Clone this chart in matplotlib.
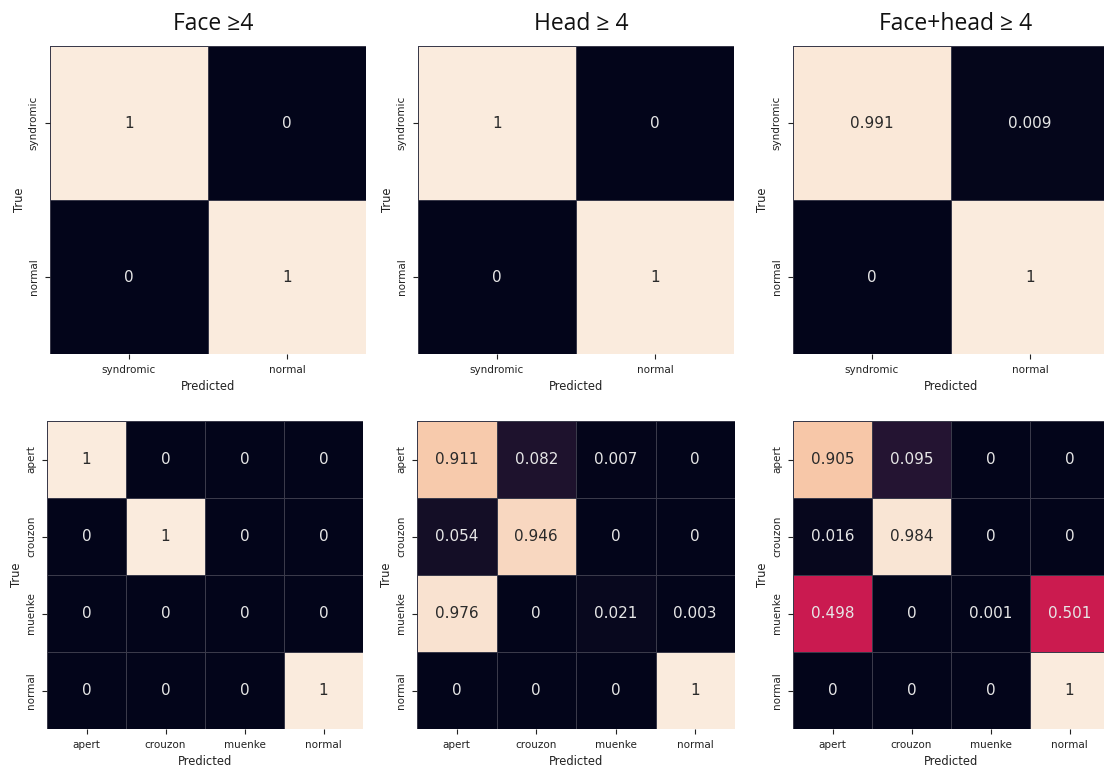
import matplotlib
matplotlib.use("Agg")
import matplotlib.pyplot as plt
import numpy as np
import seaborn as sns

# Class labels
binary_labels = ["syndromic", "normal"]
multi_labels = ["apert", "crouzon", "muenke", "normal"]

# Panel titles (top row)
titles = ["Face \u22654", "Head \u2265 4", "Face+head \u2265 4"]

# Normalised confusion matrices, binary task
face_bin = [[1, 0],
            [0, 1]]
head_bin = [[1, 0],
            [0, 1]]
facehead_bin = [[0.991, 0.009],
                [0, 1]]

# Normalised confusion matrices, multi-class task
face_multi = [[1, 0, 0, 0],
              [0, 1, 0, 0],
              [0, 0, 0, 0],
              [0, 0, 0, 1]]
head_multi = [[0.911, 0.082, 0.007, 0],
              [0.054, 0.946, 0, 0],
              [0.976, 0, 0.021, 0.003],
              [0, 0, 0, 1]]
facehead_multi = [[0.905, 0.095, 0, 0],
                  [0.016, 0.984, 0, 0],
                  [0.498, 0, 0.001, 0.501],
                  [0, 0, 0, 1]]

W, H = 1104, 767
fig = plt.figure(figsize=(W / 100, H / 100), dpi=100)


def px_axes(x0, y0, x1, y1):
    return fig.add_axes([x0 / W, 1 - y1 / H, (x1 - x0) / W, (y1 - y0) / H])


def fmt(v):
    return f"{v:g}" if v in (0, 1) else f"{v:.3f}"


def draw(ax, mat, labels):
    arr = np.array(mat, dtype=float)
    annot = np.array([[fmt(v) for v in row] for row in arr])
    sns.heatmap(arr, ax=ax, cmap="rocket", vmin=0, vmax=1, cbar=False,
                annot=annot, fmt="", annot_kws={"fontsize": 11},
                linewidths=0.6, linecolor="#3a3a4a",
                xticklabels=labels, yticklabels=labels)
    # soften annotation colours slightly
    for t, v in zip(ax.texts, arr.ravel()):
        t.set_color("#2a2a2a" if v > 0.6 else "#e6e6e6")
    ax.tick_params(axis="both", labelsize=7.5, length=3.5, width=0.8,
                   colors="#222222", pad=4.5)
    for t in ax.get_yticklabels():
        t.set_rotation(90)
        t.set_va("center")
    for t in ax.get_xticklabels():
        t.set_rotation(0)
    ax.set_xlabel("Predicted", fontsize=8.3, color="#222222", labelpad=3.5)
    ax.set_ylabel("True", fontsize=8.3, color="#222222", labelpad=2)


top_x = [(50, 366), (418, 734), (793, 1109)]
bot_x = [(47, 363), (417, 735), (793, 1109)]
bins = [face_bin, head_bin, facehead_bin]
multis = [face_multi, head_multi, facehead_multi]

for i in range(3):
    ax = px_axes(top_x[i][0], 46, top_x[i][1], 354)
    draw(ax, bins[i], binary_labels)
    cx = (top_x[i][0] + top_x[i][1]) / 2 + 5
    fig.text(cx / W, 1 - 24 / H, titles[i], ha="center", va="center",
             fontsize=16.5, family="Open Sans", color="#111111")

    ax2 = px_axes(bot_x[i][0], 421, bot_x[i][1], 729)
    draw(ax2, multis[i], multi_labels)

fig.savefig("out.png", dpi=100, facecolor="white")
